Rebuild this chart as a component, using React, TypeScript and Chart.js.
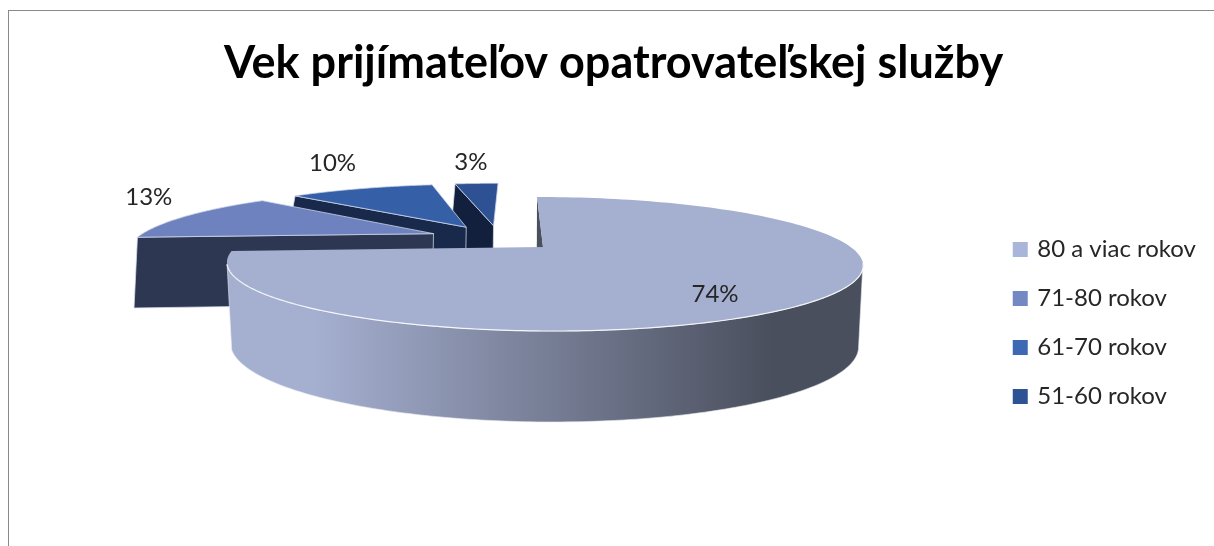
import React, { useEffect, useRef } from "react";
import { Chart, registerables } from "chart.js";

Chart.register(...registerables);

const categories = ["80 a viac rokov", "71-80 rokov", "61-70 rokov", "51-60 rokov"];
const shares = [74, 13, 10, 3];
const titleText = "Vek prijímateľov opatrovateľskej služby";

const legendColors = ["#A9B6D9", "#7488C4", "#3D68B4", "#2E5395"];
const topColors = ["#A5AFD0", "#6E82BF", "#3560A8", "#2D5192"];
const wallColors = ["#4A505E", "#2E3752", "#19294C", "#13203D"];

// explosion of the slices, as a share of the radius
const EXPLODE = 0.22;
// small per-slice corrections (px)
const NUDGE_X = [0, -1, 1, 4];
const BOTTOM_LIFT = [0, 10, 6, 6];
// data label polar placement relative to the slice's tip
const LABEL_R = [0.777, 1.437, 1.833, 1.705];
const LABEL_SHIFT_DEG = [11, 12.8, 5.5, 0.5];
// part of the rim that faces the viewer (degrees, canvas convention)
const FRONT_FROM = (14 * Math.PI) / 180;
const FRONT_TO = (165 * Math.PI) / 180;

// perspective of the top and bottom faces
const TOP = { x0: 543, y0: 247, a: 307.6, b: 62.7, k: 0.2537, s: 7.5 };
const BOT = { x0: 543, y0: 329.6, a: 307.6, b: 73.9, k: 0.2, s: 7.5 };

type Face = typeof TOP;
const project = (f: Face, u: number, v: number) => {
  const den = 1 - f.k * v;
  return { x: f.x0 + (f.a * u + f.s * v) / den, y: f.y0 + (f.b * v) / den };
};

const pie3d = {
  id: "pie3d",
  beforeDatasetDraw() {
    return false;
  },
  afterDatasetsDraw(chart: any) {
    const ctx: CanvasRenderingContext2D = chart.ctx;
    const arcs = chart.getDatasetMeta(0).data as any[];
    const mid0 = (arcs[0].startAngle + arcs[0].endAngle) / 2;
    const cu = -EXPLODE * Math.cos(mid0);
    const cv = -EXPLODE * Math.sin(mid0);
    const geo = arcs.map((arc, i) => {
      const mid = (arc.startAngle + arc.endAngle) / 2;
      const ou = cu + EXPLODE * Math.cos(mid);
      const ov = cv + EXPLODE * Math.sin(mid);
      const nx = NUDGE_X[i];
      const lift = BOTTOM_LIFT[i];
      const t = (u: number, v: number) => {
        const p = project(TOP, ou + u, ov + v);
        return { x: p.x + nx, y: p.y };
      };
      const b = (u: number, v: number) => {
        const p = project(BOT, ou + u, ov + v);
        return { x: p.x + nx, y: p.y - lift };
      };
      return { arc, mid, ou, ov, t, b };
    });

    const N = 160;
    const arcPts = (fn: (u: number, v: number) => { x: number; y: number }, a0: number, a1: number) => {
      const pts = [];
      for (let j = 0; j <= N; j++) {
        const a = a0 + ((a1 - a0) * j) / N;
        pts.push(fn(Math.cos(a), Math.sin(a)));
      }
      return pts;
    };
    const poly = (pts: { x: number; y: number }[]) => {
      ctx.beginPath();
      pts.forEach((p, j) => (j ? ctx.lineTo(p.x, p.y) : ctx.moveTo(p.x, p.y)));
      ctx.closePath();
    };

    for (let i = arcs.length - 1; i >= 0; i--) {
      const g = geo[i];
      const s = g.arc.startAngle;
      const e = g.arc.endAngle;
      // radial wall below the slice's first edge
      const su = Math.cos(s);
      const sv = Math.sin(s);
      poly([g.t(su, sv), g.t(0, 0), g.b(0, 0), g.b(su, sv)]);
      ctx.fillStyle = wallColors[i];
      ctx.fill();
      if (i > 0) {
        ctx.strokeStyle = "rgba(214,220,236,0.75)";
        ctx.lineWidth = 1;
        ctx.stroke();
      }

      if (i === 0) {
        const grad = ctx.createLinearGradient(232, 0, 860, 0);
        grad.addColorStop(0, "#A5AFD0");
        grad.addColorStop(0.13, "#A5AFD0");
        grad.addColorStop(0.86, "#4A4F5D");
        grad.addColorStop(1, "#4A4F5D");
        poly([...arcPts(g.t, FRONT_FROM, FRONT_TO), ...arcPts(g.b, FRONT_TO, FRONT_FROM)]);
        ctx.fillStyle = grad;
        ctx.fill();
        ctx.strokeStyle = "rgba(230,233,242,0.6)";
        ctx.lineWidth = 1;
        ctx.stroke();
      }

      const face = [g.t(0, 0), ...arcPts(g.t, s, e)];
      poly(face);
      ctx.fillStyle = topColors[i];
      ctx.fill();
      if (i > 0) {
        ctx.strokeStyle = "rgba(205,213,234,0.8)";
        ctx.lineWidth = 1;
        ctx.stroke();
      } else {
        const rim = arcPts(g.t, FRONT_FROM, FRONT_TO);
        ctx.beginPath();
        rim.forEach((p, j) => (j ? ctx.lineTo(p.x, p.y) : ctx.moveTo(p.x, p.y)));
        ctx.strokeStyle = "rgba(255,255,255,0.85)";
        ctx.lineWidth = 1.2;
        ctx.stroke();
      }
    }

    ctx.fillStyle = "#262626";
    ctx.font = "24px Lato";
    ctx.textAlign = "center";
    ctx.textBaseline = "middle";
    geo.forEach((g, i) => {
      const a = g.mid + (LABEL_SHIFT_DEG[i] * Math.PI) / 180;
      const p = g.t(LABEL_R[i] * Math.cos(a), LABEL_R[i] * Math.sin(a));
      ctx.fillText(shares[i] + "%", p.x, p.y);
    });
  },
};

export default function App() {
  const ref = useRef<HTMLCanvasElement>(null);
  useEffect(() => {
    const chart = new Chart(ref.current!, {
      type: "pie",
      data: {
        labels: categories,
        datasets: [{ data: shares, backgroundColor: legendColors, borderWidth: 0 }],
      },
      options: {
        animation: false,
        responsive: false,
        rotation: 0,
        layout: { padding: { left: 21, right: 8, top: 0, bottom: 0 } },
        plugins: {
          tooltip: { enabled: false },
          title: {
            display: true,
            text: titleText,
            color: "#000000",
            font: { family: "Lato", size: 45, weight: "bold" },
            padding: { top: 36, bottom: 10 },
          },
          legend: {
            display: true,
            position: "right",
            fullSize: false,
            labels: {
              color: "#262626",
              font: { family: "Lato", size: 24 },
              usePointStyle: true,
              pointStyle: "rect",
              boxWidth: 10,
              boxHeight: 15,
              padding: 25,
            },
          },
        },
      },
      plugins: [pie3d],
    } as any);
    return () => chart.destroy();
  }, []);
  return (
    <div style={{ position: "fixed", left: 0, top: 0, width: 1214, height: 546, overflow: "hidden", background: "#fff" }}>
      <canvas ref={ref} width={1214} height={546} style={{ position: "absolute", left: 0, top: 0 }} />
      <div
        style={{
          position: "absolute",
          left: 8,
          top: 10,
          right: 0,
          bottom: 0,
          borderLeft: "1px solid #8a8a8a",
          borderTop: "1px solid #8a8a8a",
          pointerEvents: "none",
        }}
      />
    </div>
  );
}
